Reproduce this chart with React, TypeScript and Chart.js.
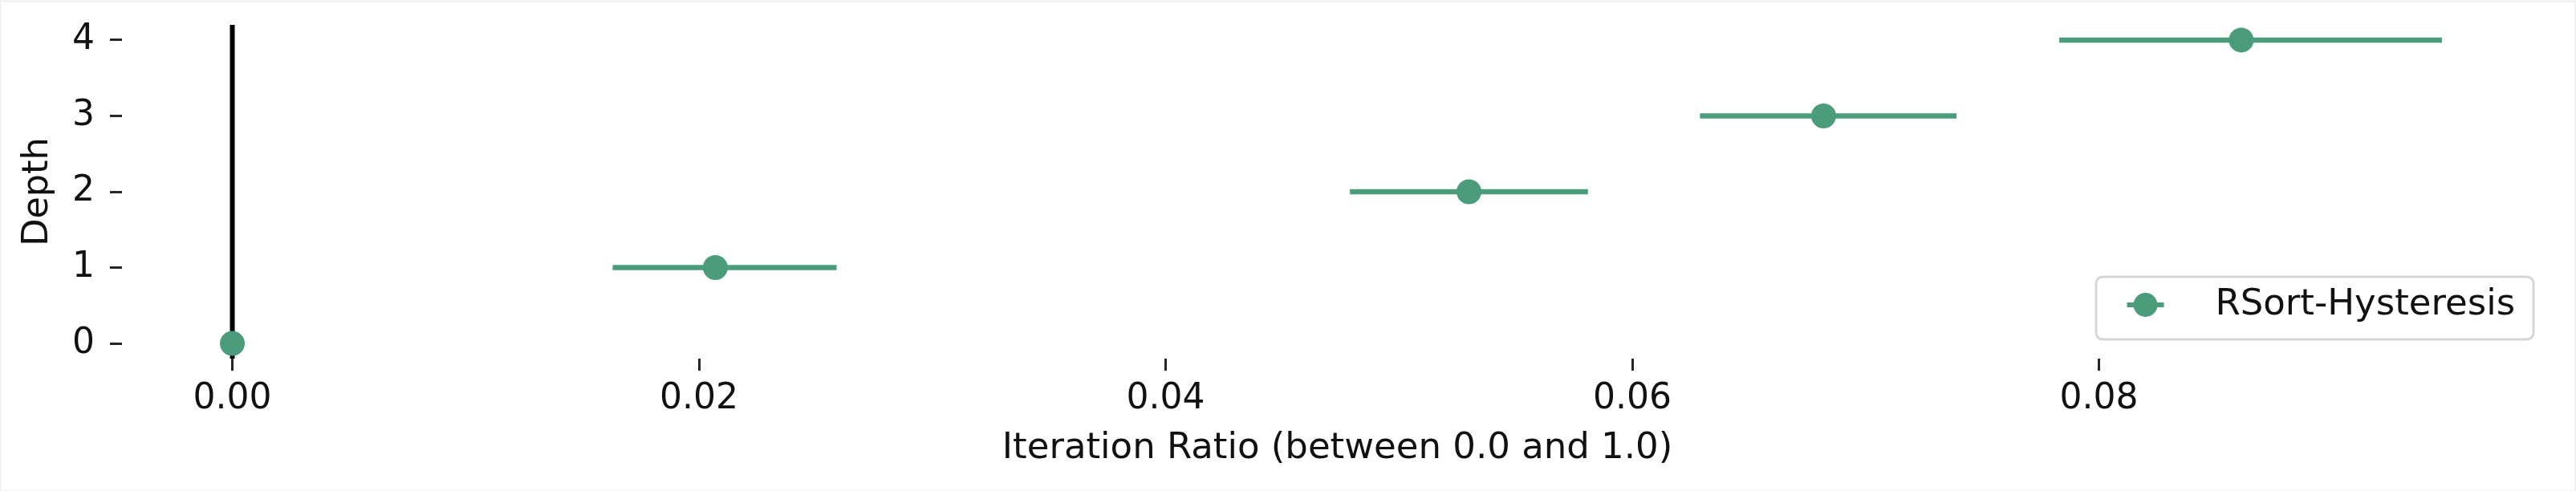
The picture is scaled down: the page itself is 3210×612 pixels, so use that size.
import React, { useEffect, useRef } from "react";
import { Chart, registerables } from "chart.js";

Chart.register(...registerables);

// ---- data ----
const depths = [0, 1, 2, 3, 4];
const means = [0, 0.0207, 0.0530, 0.0682, 0.0861];
const ciLow = [0, 0.0163, 0.0479, 0.0629, 0.0783];
const ciHigh = [0, 0.0259, 0.0581, 0.0739, 0.0947];
const xTicks = [0, 0.02, 0.04, 0.06, 0.08];
const yTicks = [0, 1, 2, 3, 4];
const baselineX = 0;
const xRange = [-0.00473, 0.09945];
const yRange = [-0.2, 4.2];
const seriesLabel = "RSort-Hysteresis";
const xTitle = "Iteration Ratio (between 0.0 and 1.0)";
const yTitle = "Depth";

const GREEN = "#4a9c7a";
const TEXT = "#111111";
const FONT = "'DejaVu Sans', sans-serif";

const framePlugin = {
  id: "frame",
  beforeDraw(chart: any) {
    const ctx = chart.ctx;
    ctx.save();
    ctx.fillStyle = "#f2f2f2";
    ctx.fillRect(0, 0, chart.width, chart.height);
    ctx.fillStyle = "#ffffff";
    ctx.fillRect(2, 3, chart.width - 4, chart.height - 4);
    ctx.restore();
  },
};

const legendPlugin = {
  id: "innerLegend",
  afterDatasetsDraw(chart: any) {
    const ctx = chart.ctx;
    const area = chart.chartArea;
    const w = 548;
    const h = 81;
    const right = area.right - 22.5;
    const bottom = area.bottom - 22.5;
    const left = right - w;
    const top = bottom - h;
    ctx.save();
    ctx.beginPath();
    (ctx as any).roundRect(left + 1.5, top + 1.5, w - 3, h - 3, 8);
    ctx.fillStyle = "rgba(255,255,255,0.85)";
    ctx.fill();
    ctx.lineWidth = 3;
    ctx.strokeStyle = "#d6d6d6";
    ctx.stroke();
    const cy = top + 36.5;
    const mx = left + 63;
    ctx.beginPath();
    ctx.moveTo(mx - 23, cy);
    ctx.lineTo(mx + 23, cy);
    ctx.lineWidth = 6;
    ctx.strokeStyle = GREEN;
    ctx.stroke();
    ctx.beginPath();
    ctx.arc(mx, cy, 15, 0, Math.PI * 2);
    ctx.fillStyle = GREEN;
    ctx.fill();
    ctx.fillStyle = TEXT;
    ctx.font = `45px ${FONT}`;
    ctx.textAlign = "left";
    ctx.textBaseline = "middle";
    ctx.fillText(chart.data.datasets[0].label, left + 150, cy);
    ctx.restore();
  },
};

export default function App() {
  const ref = useRef<HTMLCanvasElement | null>(null);

  useEffect(() => {
    document.body.style.margin = "0";
    const canvas = ref.current!;
    const errorSets = depths.map((d, i) => ({
      label: `ci-${d}`,
      data: [
        { x: ciLow[i], y: d },
        { x: ciHigh[i], y: d },
      ],
      showLine: true,
      borderColor: GREEN,
      borderWidth: 6.5,
      pointRadius: 0,
      pointHoverRadius: 0,
      order: 2,
    }));
    const chart = new Chart(canvas, {
      type: "scatter",
      data: {
        datasets: [
          {
            label: seriesLabel,
            data: depths.map((d, i) => ({ x: means[i], y: d })),
            backgroundColor: GREEN,
            borderWidth: 0,
            pointRadius: 15.5,
            pointHoverRadius: 15.5,
            order: 1,
          },
          ...errorSets,
          {
            label: "baseline",
            data: [
              { x: baselineX, y: yRange[0] },
              { x: baselineX, y: yRange[1] },
            ],
            showLine: true,
            borderColor: "#000000",
            borderWidth: 6,
            pointRadius: 0,
            pointHoverRadius: 0,
            order: 3,
          },
        ] as any,
      },
      options: {
        responsive: false,
        animation: false,
        devicePixelRatio: 1,
        layout: { padding: { left: 0, right: 29, top: 31, bottom: 0 } },
        plugins: {
          legend: { display: false },
          tooltip: { enabled: false },
        },
        scales: {
          x: {
            type: "linear",
            min: xRange[0],
            max: xRange[1],
            afterBuildTicks: (axis: any) => {
              axis.ticks = xTicks.map((v) => ({ value: v }));
            },
            afterFit: (s: any) => {
              s.height = 165;
              s.paddingLeft = 0;
              s.paddingRight = 0;
            },
            ticks: {
              callback: (v: any) => Number(v).toFixed(2),
              font: { size: 44, family: FONT },
              color: TEXT,
              padding: 9,
              maxRotation: 0,
              autoSkip: false,
            },
            grid: {
              drawOnChartArea: false,
              drawTicks: true,
              tickLength: 15,
              tickWidth: 3,
              tickColor: "#262626",
            },
            border: { display: false },
            title: {
              display: true,
              text: xTitle,
              font: { size: 45, family: FONT },
              color: TEXT,
              padding: { top: 0, bottom: 26 },
            },
          },
          y: {
            type: "linear",
            min: yRange[0],
            max: yRange[1],
            afterBuildTicks: (axis: any) => {
              axis.ticks = yTicks.map((v) => ({ value: v }));
            },
            afterFit: (s: any) => {
              s.width = 152;
              s.paddingTop = 0;
              s.paddingBottom = 0;
            },
            ticks: {
              callback: (v: any) => String(v),
              font: { size: 44, family: FONT },
              color: TEXT,
              padding: 19,
              autoSkip: false,
            },
            grid: {
              drawOnChartArea: false,
              drawTicks: true,
              tickLength: 15,
              tickWidth: 3,
              tickColor: "#262626",
            },
            border: { display: false },
            title: {
              display: true,
              text: yTitle,
              font: { size: 44.5, family: FONT },
              color: TEXT,
              padding: { top: 20.8, bottom: 0 },
            },
          },
        },
      } as any,
      plugins: [framePlugin, legendPlugin],
    });
    return () => chart.destroy();
  }, []);

  return (
    <canvas
      ref={ref}
      width={3210}
      height={612}
      style={{ display: "block", width: "3210px", height: "612px" }}
    />
  );
}
